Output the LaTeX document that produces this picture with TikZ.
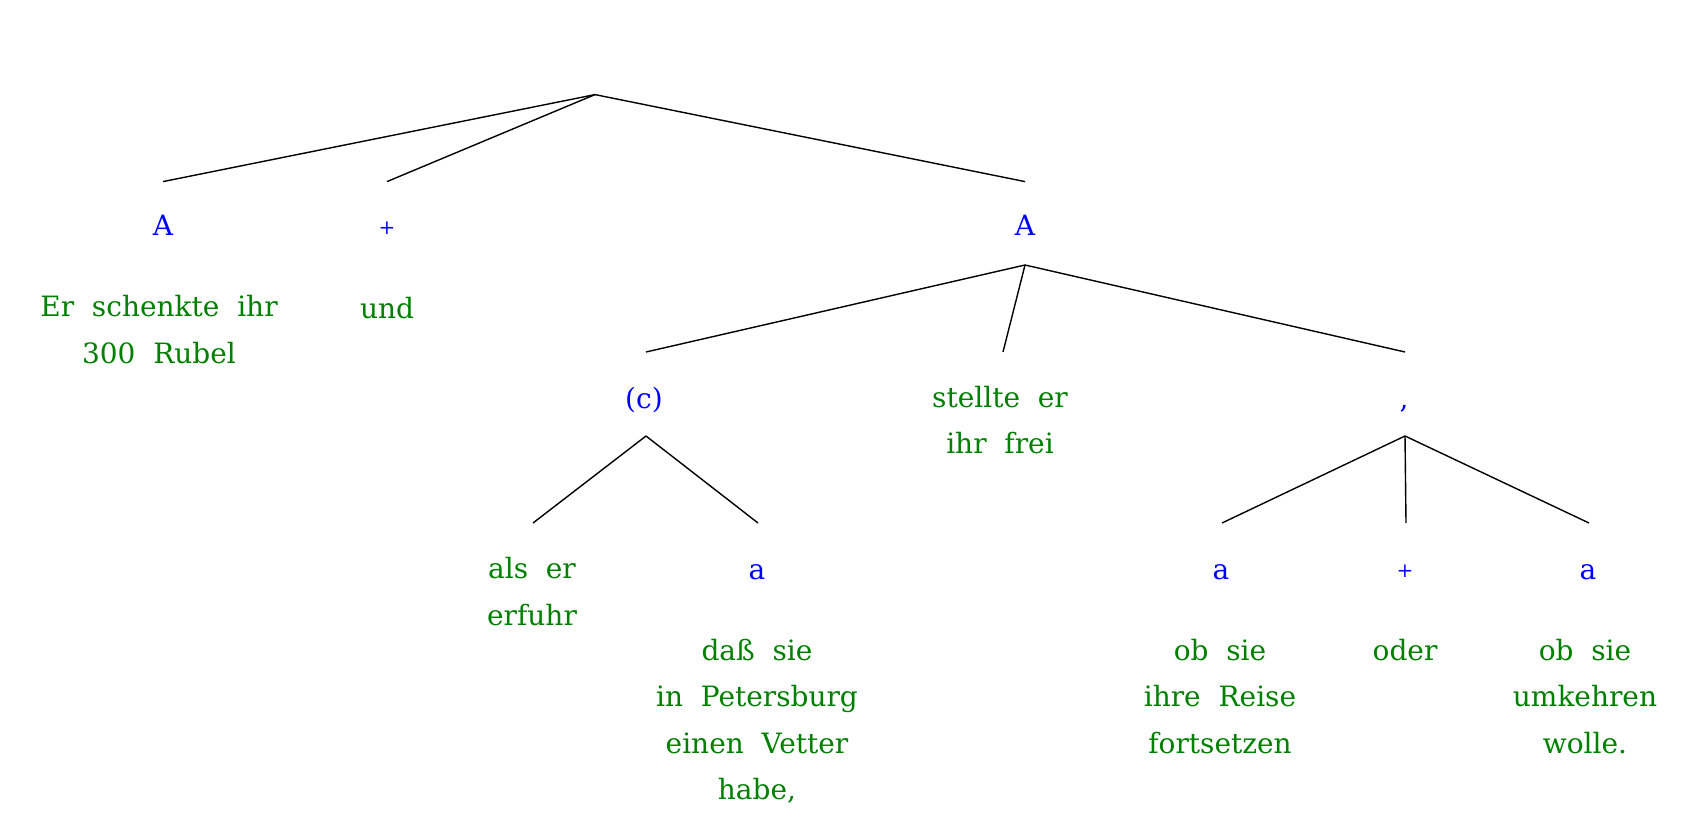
\documentclass[tikz,border=0pt]{standalone}
\usepackage{fontspec}
\setmainfont{DejaVu Serif}
\definecolor{lblue}{RGB}{0,0,255}
\definecolor{lgreen}{RGB}{0,128,0}
\begin{document}
\begin{tikzpicture}[x=1pt,y=-1pt,
  lab/.style={anchor=base,inner sep=0pt,text=lblue,font=\fontsize{28}{46}\selectfont},
  plus/.style={anchor=base,inner sep=0pt,text=lblue,font=\fontsize{20}{46}\selectfont},
  words/.style={anchor=base,inner sep=0pt,text=lgreen,align=center,font=\fontsize{28}{46.5}\selectfont},
  edge/.style={line width=1.4pt}]
\useasboundingbox (0,0) rectangle (1705,837);
% level 0
\coordinate (r) at (595,94.6);
\coordinate (e1) at (163,181.6);
\coordinate (e2) at (387,181.6);
\coordinate (e3) at (1025,181.6);
\node[lab] (A1) at (163,236) {A};
\node[plus] (P1) at (387,234) {+};
\node[lab] (A2) at (1025,236) {A};
\node[words] (w1) at (159,363) {Er\ \ schenkte\ \ ihr\\300\ \ Rubel};
\node[words] (w2) at (387,318) {und};
\draw[edge] (r) -- (e1);
\draw[edge] (r) -- (e2);
\draw[edge] (r) -- (e3);
% level 1
\coordinate (r2) at (1025,265);
\coordinate (f1) at (646,352);
\coordinate (f2) at (1003,352);
\coordinate (f3) at (1405,352);
\draw[edge] (r2) -- (f1);
\draw[edge] (r2) -- (f2);
\draw[edge] (r2) -- (f3);
\node[lab] (C) at (644,408) {(c)};
\node[words] (w3) at (1000,453.5) {stellte\ \ er\\ihr\ \ frei};
\node[lab] (K) at (1404,408) {,};
% level 2 left
\coordinate (r3) at (646,436);
\coordinate (g1) at (533,523);
\coordinate (g2) at (758,523);
\draw[edge] (r3) -- (g1);
\draw[edge] (r3) -- (g2);
\node[words] (w4) at (532,625) {als\ \ er\\erfuhr};
\node[lab] (a1) at (757,579) {a};
\node[words] (w5) at (757,799.5) {daß\ \ sie\\in\ \ Petersburg\\einen\ \ Vetter\\habe,};
% level 2 right
\coordinate (r4) at (1405,436);
\coordinate (h1) at (1222,523);
\coordinate (h2) at (1406,523);
\coordinate (h3) at (1589,523);
\draw[edge] (r4) -- (h1);
\draw[edge] (r4) -- (h2);
\draw[edge] (r4) -- (h3);
\node[lab] (a2) at (1221,579) {a};
\node[plus] (P2) at (1405,577) {+};
\node[lab] (a3) at (1588,579) {a};
\node[words] (w6) at (1220,753) {ob\ \ sie\\ihre\ \ Reise\\fortsetzen};
\node[words] (w7) at (1405,660) {oder};
\node[words] (w8) at (1585,753) {ob\ \ sie\\umkehren\\wolle.};
\end{tikzpicture}
\end{document}
